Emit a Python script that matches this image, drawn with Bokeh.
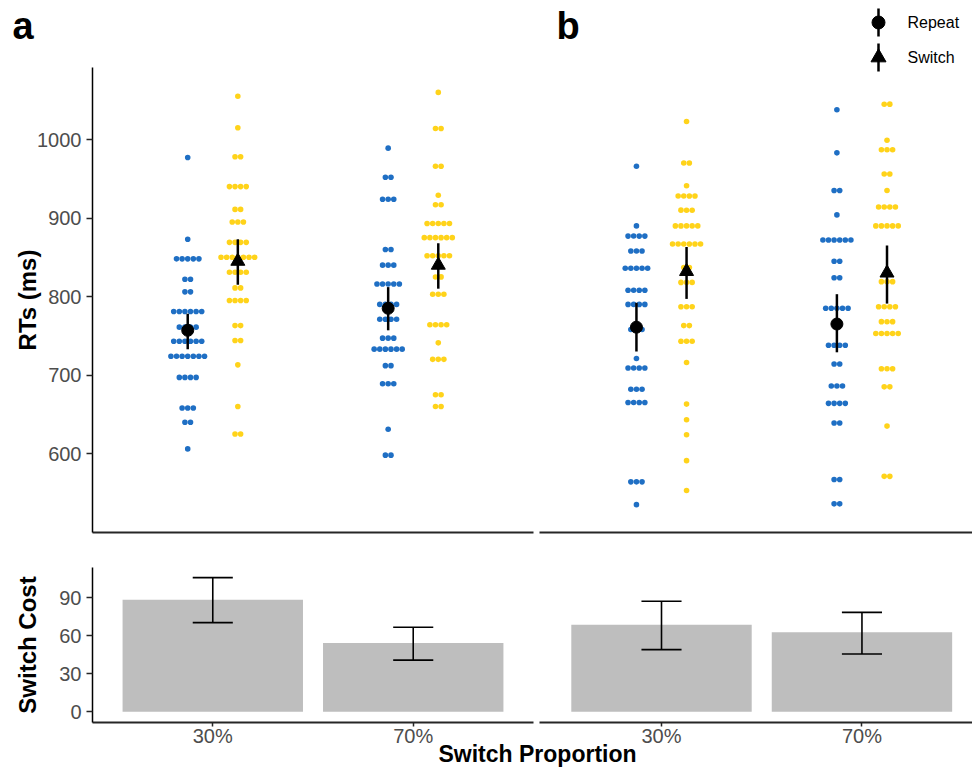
import math
from bokeh.plotting import figure
from bokeh.models import Range1d, FixedTicker, Label, LinearAxis
from bokeh.embed import file_html
from bokeh.resources import INLINE

FONT = "Liberation Sans"
BLUE = "#1f6fc4"
YELLOW = "#ffd31a"
BAR_GREY = "#bebebe"
TICK_COL = "#4d4d4d"
AXIS_COL = "#262626"

CATS = ["30%", "70%"]
Y_TICKS = [600, 700, 800, 900, 1000]
COST_TICKS = [0, 30, 60, 90]

# ---- individual RTs (dot rows: value, number of dots) ----
A30_REP_RT = [977, 873, 848, 822, 806, 781, 761, 743, 724, 697, 658, 640, 606]
A30_REP_N = [1, 1, 5, 2, 2, 6, 4, 6, 7, 4, 3, 2, 1]
A30_SW_RT = [1055, 1015, 978, 940, 911, 895, 869, 850, 831, 811, 795, 763, 744, 713, 660, 625]
A30_SW_N = [1, 1, 2, 4, 2, 3, 4, 7, 4, 2, 4, 2, 2, 1, 1, 2]
A70_REP_RT = [989, 952, 924, 860, 840, 816, 790, 771, 747, 733, 712, 689, 631, 598]
A70_REP_N = [1, 2, 3, 2, 3, 5, 4, 4, 3, 6, 2, 3, 1, 2]
A70_SW_RT = [1060, 1014, 966, 929, 917, 893, 875, 852, 825, 803, 764, 741, 720, 675, 660]
A70_SW_N = [1, 2, 2, 1, 2, 5, 6, 5, 2, 3, 4, 1, 3, 2, 2]

B30_REP_RT = [966, 890, 877, 858, 836, 808, 790, 758, 721, 709, 682, 665, 564, 535]
B30_REP_N = [1, 1, 4, 3, 5, 4, 4, 3, 1, 4, 3, 4, 3, 1]
B30_SW_RT = [1023, 970, 941, 928, 910, 890, 867, 837, 818, 787, 763, 743, 716, 663, 643, 624, 591, 553]
B30_SW_N = [1, 2, 1, 4, 3, 5, 6, 2, 3, 3, 2, 3, 1, 1, 1, 1, 1, 1]
B70_REP_RT = [1038, 983, 935, 904, 872, 845, 824, 785, 765, 738, 714, 686, 664, 639, 567, 536]
B70_REP_N = [1, 1, 2, 1, 6, 2, 2, 5, 1, 4, 2, 3, 4, 2, 2, 2]
B70_SW_RT = [1045, 999, 987, 956, 935, 914, 890, 819, 787, 768, 753, 708, 685, 635, 571]
B70_SW_N = [2, 1, 3, 2, 1, 4, 5, 3, 4, 3, 5, 3, 2, 1, 2]

# ---- means with error bars ----
A_REP_MEAN = [757, 785]
A_REP_LO = [733, 757]
A_REP_HI = [778, 812]
A_SW_MEAN = [845, 840]
A_SW_LO = [815, 810]
A_SW_HI = [873, 868]
B_REP_MEAN = [761, 765]
B_REP_LO = [730, 729]
B_REP_HI = [792, 803]
B_SW_MEAN = [832, 830]
B_SW_LO = [797, 791]
B_SW_HI = [863, 865]

# ---- switch costs ----
A_COST = [88.6, 54.4]
A_COST_LO = [70.4, 40.8]
A_COST_HI = [106.0, 66.8]
B_COST = [68.7, 62.8]
B_COST_LO = [49.1, 45.6]
B_COST_HI = [87.3, 78.5]

# ---- layout (one canvas, frame = whole canvas) ----
W, H = 972, 768
A_LEFT_PX, A_RIGHT_PX = 92, 533      # panel a frame
B_LEFT_PX = 539                      # panel b frame start
B_CAT1_PX = 661                      # panel b first category
TOP_PX, TOP_BOT_PX = 67, 532         # RT panels
BOT_TOP_PX, BOT_BOT_PX = 567, 722    # cost panels

X0, XA1 = 0.4, 2.6
PPU = (A_RIGHT_PX - A_LEFT_PX) / (XA1 - X0)
XA_START = X0 - A_LEFT_PX / PPU
XB_START = 1 - B_CAT1_PX / PPU
Y_LO, Y_AX = 499.5, 1091.7
PPMS = (TOP_BOT_PX - TOP_PX) / (Y_AX - Y_LO)
Y_START = Y_LO - (H - TOP_BOT_PX) / PPMS
Y_END = Y_AX + TOP_PX / PPMS
C_LO, C_HI = -8.5, 114.0
PPC = (BOT_BOT_PX - BOT_TOP_PX) / (C_HI - C_LO)
C_START = C_LO - (H - BOT_BOT_PX) / PPC
C_END = C_HI + BOT_TOP_PX / PPC

DODGE = 0.125
DOT = 5.6
SPACING = DOT / PPU


def xa(px):
    return XA_START + px / PPU


def xb(px):
    return XB_START + px / PPU


def yr(py):
    return Y_END - py / PPMS


def expand(vals, counts, center):
    xs, ys = [], []
    for v, n in zip(vals, counts):
        for i in range(n):
            xs.append(center + (i - (n - 1) / 2) * SPACING)
            ys.append(v)
    return xs, ys


p = figure(width=W, height=H, x_range=Range1d(XA_START, XA_START + W / PPU),
           y_range=Range1d(Y_START, Y_END), output_backend="svg",
           toolbar_location=None, title=None, x_axis_location=None, y_axis_location=None,
           min_border_left=0, min_border_right=0, min_border_top=0, min_border_bottom=0)
p.extra_x_ranges = {"b": Range1d(XB_START, XB_START + W / PPU)}
p.extra_y_ranges = {"cost": Range1d(C_START, C_END)}
p.xgrid.visible = False
p.ygrid.visible = False
p.outline_line_color = None
p.background_fill_color = "white"
p.border_fill_color = "white"


def style_tick_labels(ax):
    ax.major_label_text_font = FONT
    ax.major_label_text_font_size = "20px"
    ax.major_label_text_color = TICK_COL
    ax.minor_tick_line_color = None
    ax.major_tick_in = 0
    ax.major_tick_line_color = AXIS_COL
    ax.major_tick_line_width = 1.5


# y axes
for rng, ticks, bounds in [("default", Y_TICKS, (Y_LO, Y_AX)), ("cost", COST_TICKS, (C_LO, C_HI))]:
    ax = LinearAxis(y_range_name=rng, fixed_location=X0, bounds=bounds,
                    ticker=FixedTicker(ticks=ticks))
    style_tick_labels(ax)
    ax.axis_line_width = 1.5
    ax.axis_line_color = "black"
    ax.major_tick_out = 6
    ax.major_label_standoff = 5
    p.add_layout(ax, "left")

# x axes: top panels (line only) and cost panels (ticks + labels)
for xr, bounds in [("default", (X0, XA1)), ("b", (xb(B_LEFT_PX), xb(W)))]:
    ax = LinearAxis(x_range_name=xr, fixed_location=Y_LO, bounds=bounds,
                    ticker=FixedTicker(ticks=[]))
    ax.axis_line_width = 2
    ax.axis_line_color = AXIS_COL
    ax.major_tick_out = 0
    ax.major_tick_in = 0
    ax.minor_tick_line_color = None
    ax.major_label_text_font_size = "0px"
    p.add_layout(ax, "below")

    ax = LinearAxis(x_range_name=xr, y_range_name="cost", fixed_location=C_LO, bounds=bounds,
                    ticker=FixedTicker(ticks=[1, 2]),
                    major_label_overrides={1: CATS[0], 2: CATS[1]})
    style_tick_labels(ax)
    ax.axis_line_width = 2
    ax.axis_line_color = AXIS_COL
    ax.major_tick_out = 4
    ax.major_label_standoff = -2
    p.add_layout(ax, "below")

# dot plots, means and error bars
panels = [
    ("default", [(A30_REP_RT, A30_REP_N, A30_SW_RT, A30_SW_N),
                 (A70_REP_RT, A70_REP_N, A70_SW_RT, A70_SW_N)],
     (A_REP_MEAN, A_REP_LO, A_REP_HI, A_SW_MEAN, A_SW_LO, A_SW_HI),
     (A_COST, A_COST_LO, A_COST_HI)),
    ("b", [(B30_REP_RT, B30_REP_N, B30_SW_RT, B30_SW_N),
           (B70_REP_RT, B70_REP_N, B70_SW_RT, B70_SW_N)],
     (B_REP_MEAN, B_REP_LO, B_REP_HI, B_SW_MEAN, B_SW_LO, B_SW_HI),
     (B_COST, B_COST_LO, B_COST_HI)),
]
for xr, groups, means, costs in panels:
    for ci in range(2):
        rep_rt, rep_n, sw_rt, sw_n = groups[ci]
        xs, ys = expand(rep_rt, rep_n, ci + 1 - DODGE)
        p.scatter(xs, ys, size=DOT, fill_color=BLUE, line_color=None, x_range_name=xr)
        xs, ys = expand(sw_rt, sw_n, ci + 1 + DODGE)
        p.scatter(xs, ys, size=DOT, fill_color=YELLOW, line_color=None, x_range_name=xr)
    rep_m, rep_lo, rep_hi, sw_m, sw_lo, sw_hi = means
    xrep = [i + 1 - DODGE for i in range(2)]
    xsw = [i + 1 + DODGE for i in range(2)]
    p.segment(xrep, rep_lo, xrep, rep_hi, line_width=2.5, color="black", x_range_name=xr)
    p.segment(xsw, sw_lo, xsw, sw_hi, line_width=2.5, color="black", x_range_name=xr)
    p.scatter(xrep, rep_m, marker="circle", size=12, color="black", x_range_name=xr)
    p.scatter(xsw, sw_m, marker="triangle", size=14, color="black", x_range_name=xr)

    cost, lo, hi = costs
    xs = [1, 2]
    p.vbar(x=xs, top=cost, bottom=0, width=0.9, fill_color=BAR_GREY, line_color=None,
           x_range_name=xr, y_range_name="cost")
    p.segment(xs, lo, xs, hi, line_width=1.6, color="black", x_range_name=xr, y_range_name="cost")
    p.segment([x - 0.1 for x in xs], lo, [x + 0.1 for x in xs], lo, line_width=1.6,
              color="black", x_range_name=xr, y_range_name="cost")
    p.segment([x - 0.1 for x in xs], hi, [x + 0.1 for x in xs], hi, line_width=1.6,
              color="black", x_range_name=xr, y_range_name="cost")

# legend (pointrange keys)
LEG_X = xa(878)
LEG_TX = xa(907)
for py, marker, size, name in [(22, "circle", 13, "Repeat"), (57, "triangle", 15, "Switch")]:
    p.segment([LEG_X], [yr(py + 14)], [LEG_X], [yr(py - 14)], line_width=2.5, color="black")
    p.scatter([LEG_X], [yr(py)], marker=marker, size=size, color="black")
    p.add_layout(Label(x=LEG_TX, y=yr(py), text=name, text_font=FONT,
                       text_font_size="16px", text_color="black", text_baseline="middle"))

# panel tags
for px, tag in [(12, "a"), (556, "b")]:
    p.add_layout(Label(x=xa(px), y=yr(25), text=tag, text_font=FONT, text_font_size="38px",
                       text_font_style="bold", text_color="black", text_baseline="middle"))

# axis titles
p.add_layout(Label(x=xa(27), y=yr((TOP_PX + TOP_BOT_PX) / 2), text="RTs (ms)", angle=math.pi / 2,
                   text_font=FONT, text_font_size="24px", text_font_style="bold",
                   text_color="black", text_align="center", text_baseline="middle"))
p.add_layout(Label(x=xa(27), y=yr((BOT_TOP_PX + BOT_BOT_PX) / 2), text="Switch Cost", angle=math.pi / 2,
                   text_font=FONT, text_font_size="24px", text_font_style="bold",
                   text_color="black", text_align="center", text_baseline="middle"))
p.add_layout(Label(x=xa(537), y=yr(753), text="Switch Proportion",
                   text_font=FONT, text_font_size="23px", text_font_style="bold",
                   text_color="black", text_align="center", text_baseline="middle"))

with open("out.html", "w") as f:
    f.write(file_html(p, INLINE))
